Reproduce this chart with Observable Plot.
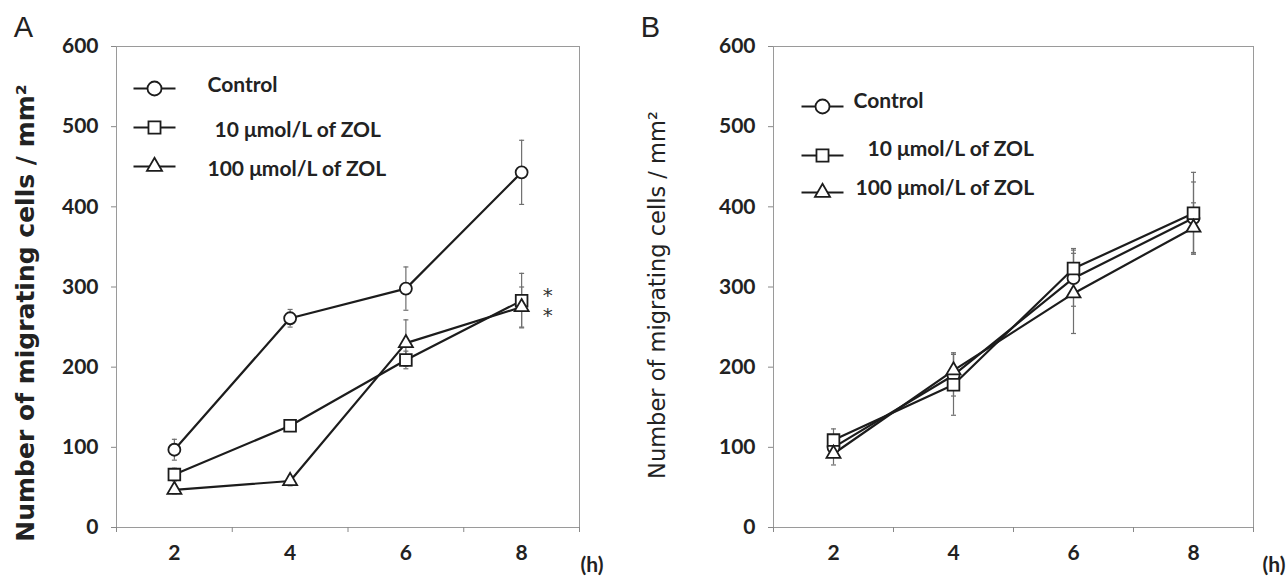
<!DOCTYPE html>
<html><head><meta charset="utf-8">
<script src="https://cdn.jsdelivr.net/npm/d3@7"></script>
<script src="https://cdn.jsdelivr.net/npm/@observablehq/plot@0.6"></script>
<style>
body{margin:0;background:#fff;}
#wrap{position:relative;width:1287px;height:576px;overflow:hidden;}
#a{position:absolute;left:0;top:0;}
#b{position:absolute;left:640px;top:0;}
</style></head><body><div id="wrap"><div id="a"></div><div id="b"></div></div>
<script>
// ---- data ----
const hours = [2, 4, 6, 8];
const seriesNames = ["Control", "10 μmol/L of ZOL", "100 μmol/L of ZOL"];
const symbols = ["circle", "square", "triangle"];
const yTicks = [0, 100, 200, 300, 400, 500, 600];
const xLabelTicks = [2, 4, 6, 8];
const xMarkTicks = [1, 3, 5, 7, 9];
const yLabelText = "Number of migrating cells / mm²";
const xUnitText = "(h)";
const starText = "*";

// Panel A
const aControl = [97, 261, 298, 443];
const aControlErr = [13, 11, 27, 40];
const a10 = [66, 127, 209, 283];
const a10Err = [8, 6, 11, 34];
const a100 = [47, 58, 230, 275];
const a100Err = [5, 6, 29, 25];

// Panel B
const bControl = [100, 190, 311, 386];
const bControlErr = [12, 26, 35, 45];
const b10 = [109, 178, 323, 392];
const b10Err = [14, 38, 25, 51];
const b100 = [92, 196, 292, 374];
const b100Err = [14, 22, 50, 31];

function rows(vals, errs, name) {
  return hours.map((h, i) => ({hour: h, value: vals[i], err: errs[i], series: name}));
}
const panelA = [rows(aControl, aControlErr, seriesNames[0]), rows(a10, a10Err, seriesNames[1]), rows(a100, a100Err, seriesNames[2])];
const panelB = [rows(bControl, bControlErr, seriesNames[0]), rows(b10, b10Err, seriesNames[1]), rows(b100, b100Err, seriesNames[2])];

// ---- styles ----
const INK = "#1c1c1c";
const TXT = "#222";
const markerR = {circle: 6, square: 6.6, triangle: 5.2};
const legendR = {circle: 7, square: 6.8, triangle: 5.6};
const lineSym = {draw(ctx) { ctx.moveTo(-21, 0); ctx.lineTo(21, 0); }};
const capSym = {draw(ctx) { ctx.moveTo(-2.5, 0); ctx.lineTo(2.5, 0); }};

function makePanel(cfg) {
  const marks = [
    Plot.frame({stroke: "#9a9a9a", strokeWidth: 1}),
    Plot.axisY({ticks: yTicks, tickSize: 5, tickPadding: 13, label: null, stroke: "#888",
      fill: TXT, fontSize: 21, fontWeight: "bold", fontFamily: "Lato"}),
    Plot.axisX({ticks: xMarkTicks, tickSize: 5, tickFormat: () => "", label: null, stroke: "#888"}),
    Plot.axisX({ticks: xLabelTicks, tickSize: 0, tickPadding: 18, label: null,
      fill: TXT, fontSize: 21, fontWeight: "bold", fontFamily: "Lato"}),
    Plot.text([yLabelText], {text: d => d, frameAnchor: "left", dx: cfg.yLabelDx, dy: cfg.yLabelDy, rotate: -90,
      textAnchor: "middle", lineAnchor: "middle",
      fontSize: cfg.yLabelSize, fontWeight: cfg.yLabelWeight, fontFamily: "DejaVu Sans", fill: TXT}),
    Plot.text([cfg.letter], {text: d => d, frameAnchor: "top-left", dx: cfg.letterDx, dy: -19,
      textAnchor: "middle", lineAnchor: "middle",
      fontSize: 29, fontFamily: "Liberation Sans", fill: TXT}),
    Plot.text([xUnitText], {text: d => d, frameAnchor: "bottom-right", dx: cfg.unitDx, dy: 38,
      textAnchor: "start", lineAnchor: "middle", fontSize: 21, fontWeight: "bold", fontFamily: "Lato", fill: TXT})
  ];
  // error bars
  cfg.data.forEach(s => {
    marks.push(Plot.ruleX(s, {x: "hour", y1: d => d.value - d.err, y2: d => d.value + d.err, stroke: "#6f6f6f", strokeWidth: 1.2}));
    marks.push(Plot.dot(s, {x: "hour", y: d => d.value + d.err, symbol: capSym, stroke: "#6f6f6f", strokeWidth: 1.2}));
    marks.push(Plot.dot(s, {x: "hour", y: d => d.value - d.err, symbol: capSym, stroke: "#6f6f6f", strokeWidth: 1.2}));
  });
  // lines
  cfg.data.forEach(s => {
    marks.push(Plot.line(s, {x: "hour", y: "value", stroke: INK, strokeWidth: 2.2}));
  });
  // markers
  cfg.data.forEach((s, i) => {
    marks.push(Plot.dot(s, {x: "hour", y: "value", symbol: symbols[i], r: markerR[symbols[i]],
      fill: "white", stroke: INK, strokeWidth: 1.8}));
  });
  // legend
  seriesNames.forEach((name, i) => {
    const L = cfg.legend[i];
    marks.push(Plot.dot([name], {frameAnchor: "top-left", dx: L.mx, dy: L.my, symbol: lineSym, stroke: INK, strokeWidth: 2}));
    marks.push(Plot.dot([name], {frameAnchor: "top-left", dx: L.mx, dy: L.my, symbol: symbols[i], r: legendR[symbols[i]],
      fill: "white", stroke: INK, strokeWidth: 1.8}));
    marks.push(Plot.text([name], {text: d => d, frameAnchor: "top-left", dx: L.tx, dy: L.ty,
      textAnchor: "start", lineAnchor: "middle",
      fontSize: 21, fontWeight: "bold", fontFamily: "Lato", fill: TXT}));
  });
  if (cfg.stars) {
    cfg.stars.forEach(st => {
      marks.push(Plot.text(cfg.data[st.series].filter(d => d.hour === 8), {x: "hour", y: "value", text: () => starText,
        dx: 26, dy: st.dy, fontSize: 20, fontFamily: "DejaVu Sans", fill: "#333"}));
    });
  }
  return Plot.plot({
    width: cfg.width, height: 576,
    marginLeft: cfg.marginLeft, marginRight: cfg.marginRight, marginTop: 46, marginBottom: 49,
    x: {domain: [1, 9]},
    y: {domain: [0, 600]},
    style: {fontFamily: "Lato", background: "white", color: TXT},
    marks
  });
}

document.getElementById("a").append(makePanel({
  data: panelA, width: 640, marginLeft: 116, marginRight: 61,
  yLabelDx: -91, yLabelDy: 26, yLabelSize: 25, yLabelWeight: "bold",
  letter: "A", letterDx: -93, unitDx: 1,
  legend: [
    {mx: 38, my: 42, tx: 91, ty: 39},
    {mx: 38, my: 81, tx: 98, ty: 84},
    {mx: 38, my: 120, tx: 91, ty: 123}
  ],
  stars: [{series: 1, dy: -5}, {series: 2, dy: 9}]
}));

document.getElementById("b").append(makePanel({
  data: panelB, width: 647, marginLeft: 133, marginRight: 34,
  yLabelDx: -116, yLabelDy: 8, yLabelSize: 22.5, yLabelWeight: "normal",
  letter: "B", letterDx: -123, unitDx: 9,
  legend: [
    {mx: 49, my: 60, tx: 80, ty: 55},
    {mx: 49, my: 109, tx: 94, ty: 103},
    {mx: 49, my: 146, tx: 82, ty: 142}
  ]
}));
</script>
</body></html>
